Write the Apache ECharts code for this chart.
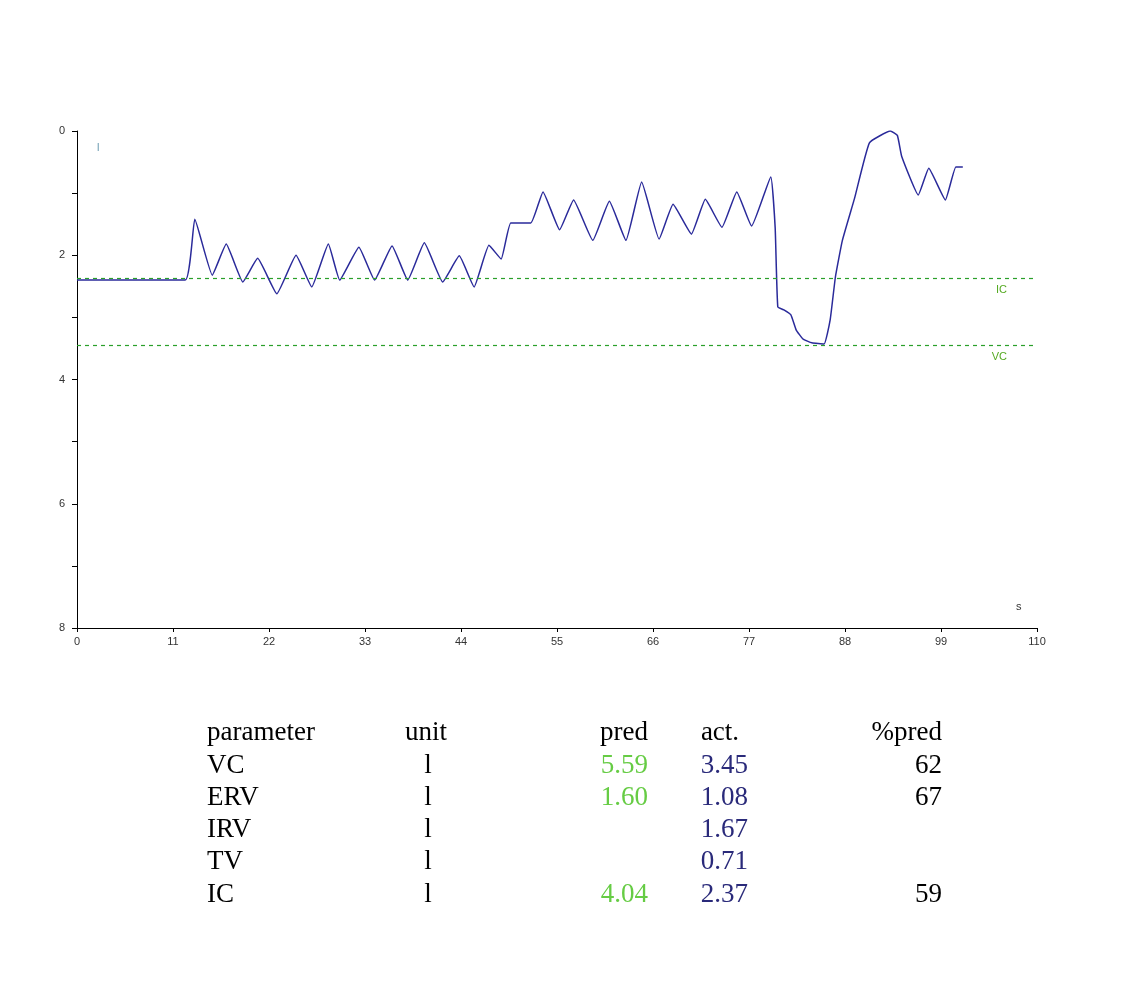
<!DOCTYPE html>
<html><head><meta charset="utf-8">
<script src="https://cdn.jsdelivr.net/npm/echarts@6/dist/echarts.min.js"></script>
<style>html,body{margin:0;padding:0;background:#fff}#c{width:1142px;height:984px}</style>
</head><body><div id="c"></div>
<script>
const timeS = [0,12.4,13.5,15.5,17.1,19.0,20.7,22.9,25.1,26.9,28.8,30.1,32.3,34.1,36.1,37.9,39.8,41.9,43.8,45.5,47.2,48.6,49.7,52.0,53.4,55.3,56.9,59.1,61.0,62.9,64.7,66.7,68.3,70.4,72.0,73.9,75.6,77.3,79.5,80.0,80.3,81.0,81.8,82.4,83.2,84.2,85.6,86.3,86.9,87.7,89.1,90.8,93.2,94.0,94.5,96.4,97.6,99.5,100.7,101.5];
const volumeL = [2.40,2.40,1.42,2.32,1.82,2.43,2.05,2.62,2.00,2.51,1.82,2.40,1.87,2.40,1.85,2.40,1.80,2.43,2.01,2.51,1.84,2.06,1.48,1.48,0.98,1.59,1.11,1.76,1.13,1.76,0.82,1.74,1.18,1.66,1.10,1.55,0.98,1.53,0.74,1.56,2.83,2.88,2.96,3.20,3.35,3.41,3.43,3.04,2.35,1.76,1.08,0.19,0.0,0.07,0.41,1.03,0.60,1.11,0.58,0.58];
const refLines = [{name:'IC', value:2.37},{name:'VC', value:3.45}];
const tableHeader = ['parameter','unit','pred','act.','%pred'];
const tableParams = ['VC','ERV','IRV','TV','IC'];
const tableUnits = ['l','l','l','l','l'];
const tablePred = ['5.59','1.60','','','4.04'];
const tableAct = ['3.45','1.08','1.67','0.71','2.37'];
const tablePct = ['62','67','','','59'];

const chart = echarts.init(document.getElementById('c'));
const green = '#2aa02a';
const lineData = timeS.map((t,i)=>[t,volumeL[i]]);
const graphics = [];
const font = '27px "Liberation Serif", "Times New Roman", serif';
const rowY = [733,766,798,830,862,895];
function txt(x,y,s,color,align){graphics.push({type:'text',x:x,y:y,style:{text:s,font:font,fill:color,textAlign:align||'left',textVerticalAlign:'middle'}});}
txt(207,rowY[0],tableHeader[0],'#000');
txt(405,rowY[0],tableHeader[1],'#000');
txt(648,rowY[0],tableHeader[2],'#000','right');
txt(720,rowY[0],tableHeader[3],'#000','center');
txt(942,rowY[0],tableHeader[4],'#000','right');
tableParams.forEach((p,i)=>{
  const y=rowY[i+1];
  txt(207,y,p,'#000');
  txt(428,y,tableUnits[i],'#000','center');
  txt(648,y,tablePred[i],'#66cc44','right');
  txt(748,y,tableAct[i],'#2a2a7a','right');
  txt(942,y,tablePct[i],'#000','right');
});
graphics.push({type:'text',x:97,y:148,style:{text:'l',font:'11px Arial',fill:'#6a9ab0',textVerticalAlign:'middle'}});
graphics.push({type:'text',x:1016,y:607,style:{text:'s',font:'11px Arial',fill:'#333',textVerticalAlign:'middle'}});

chart.setOption({
  animation:false,
  grid:{left:77,right:105,top:131,bottom:356},
  xAxis:{type:'value',min:0,max:110,interval:11,position:'bottom',
    axisLine:{onZero:false,lineStyle:{color:'#000'}},axisTick:{lineStyle:{color:'#000'},length:4},
    axisLabel:{color:'#333',fontSize:11,fontFamily:'Arial'},splitLine:{show:false}},
  yAxis:{type:'value',min:0,max:8,interval:1,inverse:true,
    axisLine:{show:true,lineStyle:{color:'#000'}},axisTick:{show:true,lineStyle:{color:'#000'},length:5},
    axisLabel:{color:'#333',fontSize:11,fontFamily:'Arial',margin:12,formatter:v=>v%2===0?v:''},splitLine:{show:false}},
  series:[{type:'line',data:lineData,showSymbol:false,smooth:0.12,
    lineStyle:{color:'#2a2a9a',width:1.5},
    markLine:{symbol:'none',silent:true,
      lineStyle:{color:green,type:[4,4],width:1.2},
      label:{position:'insideEndBottom',color:'#55aa22',fontSize:11,fontFamily:'Arial',formatter:p=>p.name,distance:[30,6]},
      data:refLines.map(r=>({name:r.name,yAxis:r.value,lineStyle:{color:green,type:[4,4],width:1.2}}))}}],
  graphic:graphics
});
</script></body></html>
